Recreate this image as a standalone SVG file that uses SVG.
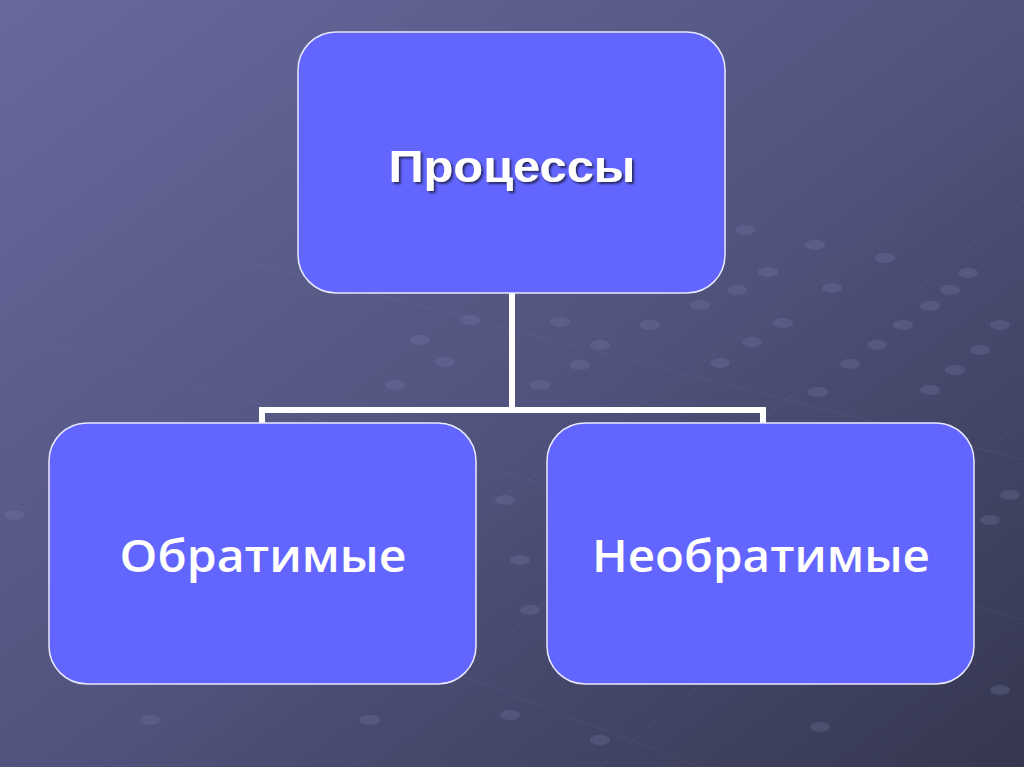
<svg xmlns="http://www.w3.org/2000/svg" width="1024" height="767" viewBox="0 0 1024 767">
<defs>
<linearGradient id="bg" x1="0" y1="0" x2="1" y2="1">
<stop offset="0" stop-color="#67699d"/>
<stop offset="0.5" stop-color="#51547e"/>
<stop offset="1" stop-color="#35374f"/>
</linearGradient>
<filter id="sh" x="-10%" y="-30%" width="120%" height="160%">
<feDropShadow dx="2" dy="2" stdDeviation="1" flood-color="#1a1a40" flood-opacity="0.8"/>
</filter>
</defs>
<style>
.box{fill:#6366fe;stroke:#e8e8ff;stroke-width:1.5}
.lbl{font-family:"Liberation Sans",Arial,sans-serif;fill:#ffffff;text-anchor:middle;filter:url(#sh)}
.lbl2{font-family:"Open Sans","Liberation Sans",Arial,sans-serif;font-weight:600;fill:#ffffff;text-anchor:middle}
.con{stroke:#ffffff;stroke-width:6;fill:none}
.dot{fill:#7a7cab;opacity:0.28}
.grid{stroke:#8a8cbb;stroke-width:1;opacity:0.12;fill:none}
</style>
<rect width="1024" height="767" fill="url(#bg)"/>
<g id="decor">
<path class="grid" d="M0 330 L1024 620 M0 500 L700 767 M200 250 L1024 460 M350 767 L1024 200 M100 767 L900 230 M600 767 L1024 420"/>
<g class="dot">
<ellipse cx="745" cy="230" rx="10" ry="5"/><ellipse cx="815" cy="245" rx="10" ry="5"/><ellipse cx="768" cy="272" rx="10" ry="5"/>
<ellipse cx="737" cy="290" rx="10" ry="5"/><ellipse cx="832" cy="288" rx="10" ry="5"/><ellipse cx="885" cy="258" rx="10" ry="5"/>
<ellipse cx="968" cy="273" rx="10" ry="5"/><ellipse cx="950" cy="290" rx="10" ry="5"/><ellipse cx="930" cy="306" rx="10" ry="5"/>
<ellipse cx="783" cy="323" rx="10" ry="5"/><ellipse cx="903" cy="325" rx="10" ry="5"/><ellipse cx="752" cy="342" rx="10" ry="5"/>
<ellipse cx="877" cy="345" rx="10" ry="5"/><ellipse cx="720" cy="363" rx="10" ry="5"/><ellipse cx="850" cy="364" rx="10" ry="5"/>
<ellipse cx="1000" cy="325" rx="10" ry="5"/><ellipse cx="980" cy="350" rx="10" ry="5"/><ellipse cx="955" cy="370" rx="10" ry="5"/>
<ellipse cx="818" cy="392" rx="10" ry="5"/><ellipse cx="930" cy="390" rx="10" ry="5"/><ellipse cx="580" cy="365" rx="10" ry="5"/>
<ellipse cx="540" cy="385" rx="10" ry="5"/><ellipse cx="470" cy="320" rx="10" ry="5"/><ellipse cx="420" cy="340" rx="10" ry="5"/>
<ellipse cx="445" cy="362" rx="10" ry="5"/><ellipse cx="395" cy="385" rx="10" ry="5"/><ellipse cx="560" cy="322" rx="10" ry="5"/>
<ellipse cx="650" cy="325" rx="10" ry="5"/><ellipse cx="600" cy="345" rx="10" ry="5"/><ellipse cx="700" cy="305" rx="10" ry="5"/>
<ellipse cx="990" cy="520" rx="10" ry="5"/><ellipse cx="1010" cy="495" rx="10" ry="5"/><ellipse cx="820" cy="727" rx="10" ry="5"/>
<ellipse cx="600" cy="740" rx="10" ry="5"/><ellipse cx="510" cy="715" rx="10" ry="5"/><ellipse cx="370" cy="720" rx="10" ry="5"/>
<ellipse cx="150" cy="720" rx="10" ry="5"/><ellipse cx="15" cy="515" rx="10" ry="5"/><ellipse cx="505" cy="500" rx="10" ry="5"/>
<ellipse cx="520" cy="560" rx="10" ry="5"/><ellipse cx="530" cy="610" rx="10" ry="5"/><ellipse cx="1000" cy="690" rx="10" ry="5"/>
</g>
</g>
<g id="connectors">
<path class="con" d="M512 293 V410 M262 424 V410 H763 V424"/>
</g>
<g id="node-processes">
<rect class="box" x="298" y="32" width="427" height="261" rx="38"/>
<text class="lbl" x="512" y="182" font-size="45" font-weight="bold" textLength="247" lengthAdjust="spacingAndGlyphs">Процессы</text>
</g>
<g id="node-reversible">
<rect class="box" x="49" y="423" width="427" height="261" rx="38"/>
<text class="lbl2" x="263" y="572" font-size="45" textLength="287" lengthAdjust="spacingAndGlyphs">Обратимые</text>
</g>
<g id="node-irreversible">
<rect class="box" x="547" y="423" width="427" height="261" rx="38"/>
<text class="lbl2" x="761" y="572" font-size="45" textLength="338" lengthAdjust="spacingAndGlyphs">Необратимые</text>
</g>
</svg>
